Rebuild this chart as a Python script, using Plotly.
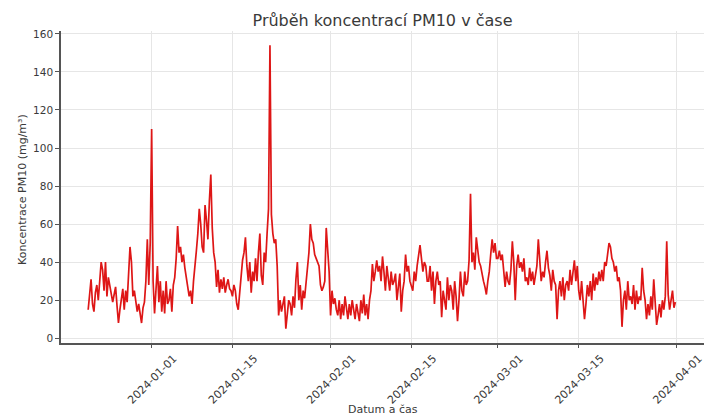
import pandas as pd
import plotly.graph_objects as go

# PM10 readings every 6 hours, 2023-12-21 00:00 .. 2024-03-31 18:00 (4 values per day)
start_time = "2023-12-21 00:00"
pm10_values = [
    15, 25, 31, 18,   # Dec 21
    14, 24, 28, 20,
    30, 40, 36, 25,
    40, 22, 32, 27,
    24, 19, 23, 27,
    17, 8, 15, 22,
    26, 15, 25, 19,
    31, 48, 40, 22,
    25, 19, 14, 18,
    12, 8, 16, 19,
    30, 52, 28, 50,   # Dec 31
    110, 30, 13, 24,  # Jan 1
    38, 19, 30, 14,
    25, 13, 30, 18,
    20, 26, 14, 28,
    32, 42, 59, 45,
    48, 40, 44, 37,
    32, 28, 22, 25,
    18, 30, 37, 46,
    55, 68, 60, 48,
    45, 70, 62, 52,
    72, 86, 58, 45,   # Jan 11
    40, 27, 36, 24,
    31, 26, 32, 24,
    28, 31, 26, 25,
    22, 28, 25, 18,   # Jan 15
    15, 25, 35, 41,
    45, 53, 38, 30,
    40, 24, 35, 30,
    42, 30, 45, 55,
    33, 28, 45, 40,
    55, 68, 154, 65,  # Jan 21
    55, 50, 52, 38,
    12, 20, 14, 18,
    22, 5, 15, 20,
    18, 12, 22, 16,
    31, 40, 20, 28,
    15, 25, 21, 28,
    35, 45, 60, 52,
    50, 44, 42, 40,
    38, 28, 25, 27,
    30, 58, 45, 35,   # Jan 31
    12, 25, 18, 21,   # Feb 1
    15, 12, 20, 10,
    18, 12, 22, 14,
    10, 18, 12, 20,
    14, 10, 18, 12,
    9, 20, 13, 23,
    12, 18, 10, 20,
    25, 39, 30, 35,
    41, 35, 38, 30,
    43, 35, 25, 38,
    30, 25, 35, 28,
    30, 34, 20, 28,
    34, 14, 25, 30,
    44, 35, 38, 30,
    28, 25, 35, 30,   # Feb 15
    38, 45, 49, 42,
    35, 40, 38, 30,
    30, 38, 25, 35,
    18, 30, 35, 28,
    30, 11, 25, 20,
    15, 32, 20, 28,
    25, 15, 30, 22,
    9, 20, 35, 25,
    22, 35, 28, 30,
    41, 76, 40, 45,   # Feb 25
    36, 53, 45, 40,
    38, 33, 30, 27,
    23, 30, 35, 44,
    52, 45, 50, 42,   # Feb 29
    42, 46, 41, 44,   # Mar 1
    37, 27, 35, 30,
    28, 36, 51, 40,
    20, 38, 44, 37,
    40, 35, 42, 30,
    32, 28, 37, 30,
    35, 28, 33, 38,
    52, 38, 30, 35,
    32, 40, 46, 37,
    33, 25, 36, 30,
    28, 10, 25, 30,
    22, 32, 20, 28,
    30, 25, 36, 28,
    35, 41, 30, 38,
    25, 20, 30, 22,   # Mar 15
    10, 18, 28, 22,
    30, 20, 34, 25,
    32, 28, 35, 30,
    36, 30, 40, 38,
    45, 50, 48, 42,
    40, 35, 38, 30,
    32, 25, 6, 20,
    25, 15, 30, 20,
    22, 18, 28, 15,
    25, 18, 22, 20,
    37, 25, 20, 10,
    18, 12, 22, 15,
    31, 20, 7, 12,
    18, 11, 20, 15,
    22, 51, 23, 15,
    20, 25, 16, 19,   # Mar 31
]

x_tick_dates = ["2024-01-01", "2024-01-15", "2024-02-01", "2024-02-15",
                "2024-03-01", "2024-03-15", "2024-04-01"]
y_tick_values = [0, 20, 40, 60, 80, 100, 120, 140, 160]

timestamps = pd.date_range(start=start_time, periods=len(pm10_values), freq="6h")

FONT = "DejaVu Sans"
TXT = "#3a3a3a"
W, H = 707, 416
ML, MR, MT, MB = 61, 3, 31, 73
PLOT_H = H - MT - MB

fig = go.Figure(
    go.Scatter(
        x=timestamps, y=pm10_values, mode="lines",
        line=dict(color="rgb(222,22,22)", width=1.7),
        showlegend=False,
    )
)

fig.update_layout(
    width=W, height=H,
    margin=dict(l=ML, r=MR, t=MT, b=MB, autoexpand=False),
    paper_bgcolor="white", plot_bgcolor="white",
    font=dict(family=FONT, size=11, color=TXT),
    title=dict(text="Průběh koncentrací PM10 v čase",
               x=(ML + (W - ML - MR) / 2) / W, xanchor="center",
               y=1 - 20 / H, yanchor="middle", font=dict(size=16, color=TXT)),
    annotations=[
        dict(text="Datum a čas", xref="paper", yref="paper",
             x=0.5, y=-(409 - (H - MB)) / PLOT_H, xanchor="center", yanchor="middle",
             showarrow=False, font=dict(size=11, color=TXT)),
        dict(text="Koncentrace PM10 (mg/m³)", xref="paper", yref="paper",
             x=-(ML - 22) / (W - ML - MR), y=1 - (190 - MT) / PLOT_H,
             xanchor="center", yanchor="middle",
             textangle=-90, showarrow=False, font=dict(size=11, color=TXT)),
    ],
)

fig.update_xaxes(
    range=["2023-12-16 07:00", "2024-04-05 17:00"],
    tickvals=x_tick_dates, ticktext=x_tick_dates, tickangle=-45,
    ticklabelshift=22,
    showgrid=True, gridcolor="#e6e6e6", gridwidth=1,
    showline=True, linecolor="#555555", linewidth=1.5,
    ticks="outside", ticklen=3, tickcolor="#555555",
    tickfont=dict(size=11, color=TXT),
    automargin=False, zeroline=False,
)
fig.update_yaxes(
    range=[-2.5, 161.5],
    tickvals=y_tick_values,
    showgrid=True, gridcolor="#e6e6e6", gridwidth=1,
    showline=True, linecolor="#555555", linewidth=1.5,
    ticks="outside", ticklen=4, tickcolor="#555555",
    tickfont=dict(size=10.5, color=TXT),
    automargin=False, zeroline=False,
)

fig.write_html(
    "out.html",
    config={"displayModeBar": False},
    post_script="document.body.style.margin='0';document.body.style.overflow='hidden';",
)
